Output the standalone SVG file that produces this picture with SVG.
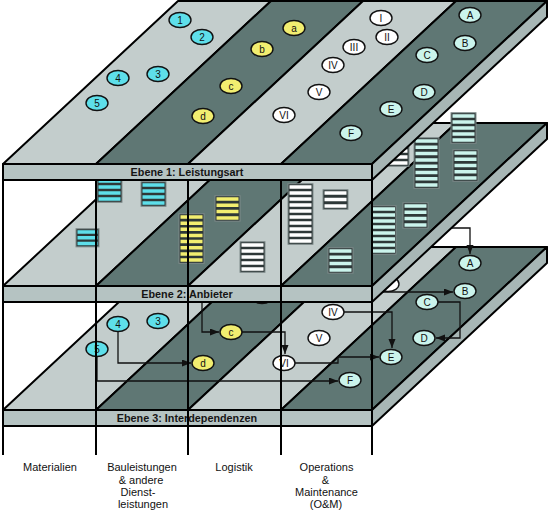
<svg xmlns="http://www.w3.org/2000/svg" xmlns:xlink="http://www.w3.org/1999/xlink" width="551" height="511" viewBox="0 0 551 511">
<style>
.e{stroke:#000;stroke-width:2;stroke-linejoin:round}
.lt{fill:#c3cdcc}.dk{fill:#5f7774}.band{fill:#b5c3c2}.side{fill:#a7b6b5}
.node ellipse{stroke:#111;stroke-width:1.4}
.cy{fill:#5edfea}.ye{fill:#f2ee70}.wh{fill:#fff}.lc{fill:#cbf4ec}
.nl{font-family:"Liberation Sans",Arial,sans-serif;font-size:10px;fill:#111;text-anchor:middle}
.bl{font-family:"Liberation Sans",Arial,sans-serif;font-weight:bold;font-size:10.8px;fill:#151515;text-anchor:middle}
.col{font-family:"Liberation Sans",Arial,sans-serif;font-size:11px;fill:#111;text-anchor:middle}
.conn path{fill:none;stroke:#111;stroke-width:1.3;marker-end:url(#arr)}
.stk rect{fill:#2e3838;stroke:#7f8b8a;stroke-width:1}
.stk line{stroke-width:22}
.post line{stroke:#000;stroke-width:2}
</style>
<defs>
<g id="slab" class="e">
<polygon class="lt" points="178,0 271,0 96,163 3,163"/>
<polygon class="dk" points="271,0 363,0 188,163 96,163"/>
<polygon class="lt" points="363,0 456,0 281,163 188,163"/>
<polygon class="dk" points="456,0 547,0 372,163 281,163"/>
<rect class="band" x="3" y="163" width="369" height="16"/>
<polygon class="side" points="372,163 547,0 547,16 372,179"/>
</g>
<marker id="arr" markerUnits="userSpaceOnUse" markerWidth="9" markerHeight="8" refX="9" refY="3.5" orient="auto">
<path d="M0,0 L9,3.5 L0,7 z" fill="#111"/>
</marker>
</defs>
<rect width="551" height="511" fill="#fff"/>

<!-- Layer 3 -->
<g id="layer3">
<use href="#slab" transform="translate(0,247)"/>
<text class="bl" x="187" y="422">Ebene 3: Interdependenzen</text>
</g>
<g id="layer3-nodes">
<g id="l3-b" class="node"><ellipse class="ye" cx="262" cy="296" rx="11" ry="7.5"/></g>
<g id="l3-II" class="node"><ellipse class="wh" cx="388" cy="284" rx="11" ry="7.5"/></g>
<g id="l3-3" class="node"><ellipse class="cy" cx="158" cy="321" rx="11" ry="7.5"/><text class="nl" x="158" y="324.6">3</text></g>
<g id="l3-4" class="node"><ellipse class="cy" cx="118" cy="324" rx="11" ry="7.5"/><text class="nl" x="118" y="327.6">4</text></g>
<g id="l3-5" class="node"><ellipse class="cy" cx="97" cy="349" rx="11" ry="7.5"/><text class="nl" x="97" y="352.6">5</text></g>
<g id="l3-c" class="node"><ellipse class="ye" cx="231" cy="332" rx="11" ry="7.5"/><text class="nl" x="231" y="335.6">c</text></g>
<g id="l3-d" class="node"><ellipse class="ye" cx="203" cy="363" rx="11" ry="7.5"/><text class="nl" x="203" y="366.6">d</text></g>
<g id="l3-IV" class="node"><ellipse class="wh" cx="333" cy="312" rx="11" ry="7.5"/><text class="nl" x="333" y="315.6">IV</text></g>
<g id="l3-V" class="node"><ellipse class="wh" cx="319" cy="338" rx="11" ry="7.5"/><text class="nl" x="319" y="341.6">V</text></g>
<g id="l3-VI" class="node"><ellipse class="wh" cx="284" cy="363" rx="11" ry="7.5"/><text class="nl" x="284" y="366.6">VI</text></g>
<g id="l3-A" class="node"><ellipse class="lc" cx="470" cy="263" rx="11" ry="7.5"/><text class="nl" x="470" y="266.6">A</text></g>
<g id="l3-B" class="node"><ellipse class="lc" cx="465" cy="291" rx="11" ry="7.5"/><text class="nl" x="465" y="294.6">B</text></g>
<g id="l3-C" class="node"><ellipse class="lc" cx="427" cy="302" rx="11" ry="7.5"/><text class="nl" x="427" y="305.6">C</text></g>
<g id="l3-D" class="node"><ellipse class="lc" cx="424" cy="338" rx="11" ry="7.5"/><text class="nl" x="424" y="341.6">D</text></g>
<g id="l3-E" class="node"><ellipse class="lc" cx="391" cy="357" rx="11" ry="7.5"/><text class="nl" x="391" y="360.6">E</text></g>
<g id="l3-F" class="node"><ellipse class="lc" cx="350" cy="380" rx="11" ry="7.5"/><text class="nl" x="350" y="383.6">F</text></g>
</g>
<g id="connectors" class="conn">
<path d="M118,331.5 V363 H191"/>
<path d="M97,356.5 V381 H338"/>
<path d="M202,290 V332 H219"/>
<path d="M242,332 H285 V354"/>
<path d="M295,363 H338 V357 H379"/>
<path d="M344,312 H392 V348"/>
<path d="M438,302 H460 V338 H436"/>
<path d="M378,292 H453"/>
<path d="M430,228 H470 V254"/>
</g>

<!-- Layer 2 -->
<g id="layer2">
<use href="#slab" transform="translate(0,123)"/>
<text class="bl" x="187" y="298">Ebene 2: Anbieter</text>
</g>
<g id="layer2-stacks" class="stk">
<g id="s-c1"><rect x="97" y="177.75" width="25" height="24.5"/><line x1="109.5" y1="179.25" x2="109.5" y2="200.75" stroke="#5edfea" stroke-dasharray="3.5 2.5"/></g>
<g id="s-c2"><rect x="141" y="181.75" width="25" height="24.5"/><line x1="153.5" y1="183.25" x2="153.5" y2="204.75" stroke="#5edfea" stroke-dasharray="3.5 2.5"/></g>
<g id="s-c3"><rect x="76" y="228.75" width="23" height="18.1"/><line x1="87.5" y1="230.25" x2="87.5" y2="245.35" stroke="#5edfea" stroke-width="20" style="stroke-width:20" stroke-dasharray="3.5 2.3"/></g>
<g id="s-y1"><rect x="179" y="213.75" width="25" height="49.6"/><line x1="191.5" y1="215.25" x2="191.5" y2="261.8" stroke="#f2ee70" stroke-dasharray="3.5 2.65"/></g>
<g id="s-y2"><rect x="215" y="195.75" width="25" height="25.4"/><line x1="227.5" y1="197.25" x2="227.5" y2="219.65" stroke="#f2ee70" stroke-dasharray="3.5 2.8"/></g>
<g id="s-w1"><rect x="240" y="241.75" width="25" height="30.5"/><line x1="252.5" y1="243.25" x2="252.5" y2="270.75" stroke="#fff" stroke-dasharray="3.5 2.5"/></g>
<g id="s-w2"><rect x="288" y="183.75" width="25" height="60.5"/><line x1="300.5" y1="185.25" x2="300.5" y2="242.75" stroke="#fff" stroke-dasharray="3.5 2.5"/></g>
<g id="s-w3"><rect x="323" y="189.75" width="25" height="19.5"/><line x1="335.5" y1="191.25" x2="335.5" y2="207.75" stroke="#fff" stroke-dasharray="3.5 3"/></g>
<g id="s-w4"><rect x="384" y="141.75" width="25" height="24.5"/><line x1="396.5" y1="143.25" x2="396.5" y2="164.75" stroke="#fff" stroke-dasharray="3.5 2.5"/></g>
<g id="s-l1"><rect x="372" y="205.75" width="24" height="48.5"/><line x1="384" y1="207.25" x2="384" y2="252.75" stroke="#cbf4ec" stroke-dasharray="3.5 2.5"/></g>
<g id="s-l2"><rect x="403" y="202.75" width="25" height="25.4"/><line x1="415.5" y1="204.25" x2="415.5" y2="226.65" stroke="#cbf4ec" stroke-dasharray="3.5 2.8"/></g>
<g id="s-l3"><rect x="328" y="247.75" width="25" height="25.4"/><line x1="340.5" y1="249.25" x2="340.5" y2="271.65" stroke="#cbf4ec" stroke-dasharray="3.5 2.8"/></g>
<g id="s-l4"><rect x="414" y="137.75" width="25" height="50.6"/><line x1="426.5" y1="139.25" x2="426.5" y2="187.85" stroke="#cbf4ec" stroke-dasharray="3.5 2.8"/></g>
<g id="s-l5"><rect x="451" y="112.75" width="25" height="30.5"/><line x1="463.5" y1="114.25" x2="463.5" y2="141.75" stroke="#cbf4ec" stroke-dasharray="3.5 2.5"/></g>
<g id="s-l6"><rect x="453" y="149.75" width="25" height="31.5"/><line x1="465.5" y1="151.25" x2="465.5" y2="179.75" stroke="#cbf4ec" stroke-dasharray="3.5 2.75"/></g>
</g>

<!-- Layer 1 -->
<g id="layer1">
<use href="#slab" transform="translate(0,1)"/>
<text class="bl" x="187" y="176">Ebene 1: Leistungsart</text>
</g>
<g id="layer1-nodes">
<g id="l1-1" class="node"><ellipse class="cy" cx="180" cy="20" rx="11" ry="7.5"/><text class="nl" x="180" y="23.6">1</text></g>
<g id="l1-2" class="node"><ellipse class="cy" cx="202" cy="37" rx="11" ry="7.5"/><text class="nl" x="202" y="40.6">2</text></g>
<g id="l1-3" class="node"><ellipse class="cy" cx="158" cy="74" rx="11" ry="7.5"/><text class="nl" x="158" y="77.6">3</text></g>
<g id="l1-4" class="node"><ellipse class="cy" cx="118" cy="78" rx="11" ry="7.5"/><text class="nl" x="118" y="81.6">4</text></g>
<g id="l1-5" class="node"><ellipse class="cy" cx="97" cy="103" rx="11" ry="7.5"/><text class="nl" x="97" y="106.6">5</text></g>
<g id="l1-a" class="node"><ellipse class="ye" cx="294" cy="28" rx="11" ry="7.5"/><text class="nl" x="294" y="31.6">a</text></g>
<g id="l1-b" class="node"><ellipse class="ye" cx="262" cy="49" rx="11" ry="7.5"/><text class="nl" x="262" y="52.6">b</text></g>
<g id="l1-c" class="node"><ellipse class="ye" cx="231" cy="86" rx="11" ry="7.5"/><text class="nl" x="231" y="89.6">c</text></g>
<g id="l1-d" class="node"><ellipse class="ye" cx="203" cy="116" rx="11" ry="7.5"/><text class="nl" x="203" y="119.6">d</text></g>
<g id="l1-I" class="node"><ellipse class="wh" cx="381" cy="18" rx="11" ry="7.5"/><text class="nl" x="381" y="21.6">I</text></g>
<g id="l1-II" class="node"><ellipse class="wh" cx="387" cy="37" rx="11" ry="7.5"/><text class="nl" x="387" y="40.6">II</text></g>
<g id="l1-III" class="node"><ellipse class="wh" cx="354" cy="47" rx="11" ry="7.5"/><text class="nl" x="354" y="50.6">III</text></g>
<g id="l1-IV" class="node"><ellipse class="wh" cx="333" cy="65" rx="11" ry="7.5"/><text class="nl" x="333" y="68.6">IV</text></g>
<g id="l1-V" class="node"><ellipse class="wh" cx="319" cy="92" rx="11" ry="7.5"/><text class="nl" x="319" y="95.6">V</text></g>
<g id="l1-VI" class="node"><ellipse class="wh" cx="284" cy="115" rx="11" ry="7.5"/><text class="nl" x="284" y="118.6">VI</text></g>
<g id="l1-A" class="node"><ellipse class="lc" cx="470" cy="15" rx="11" ry="7.5"/><text class="nl" x="470" y="18.6">A</text></g>
<g id="l1-B" class="node"><ellipse class="lc" cx="465" cy="43" rx="11" ry="7.5"/><text class="nl" x="465" y="46.6">B</text></g>
<g id="l1-C" class="node"><ellipse class="lc" cx="427" cy="55" rx="11" ry="7.5"/><text class="nl" x="427" y="58.6">C</text></g>
<g id="l1-D" class="node"><ellipse class="lc" cx="424" cy="92" rx="11" ry="7.5"/><text class="nl" x="424" y="95.6">D</text></g>
<g id="l1-E" class="node"><ellipse class="lc" cx="391" cy="109" rx="11" ry="7.5"/><text class="nl" x="391" y="112.6">E</text></g>
<g id="l1-F" class="node"><ellipse class="lc" cx="351" cy="133" rx="11" ry="7.5"/><text class="nl" x="351" y="136.6">F</text></g>
</g>

<g id="posts" class="post">
<line x1="3" y1="180" x2="3" y2="455"/>
<line x1="96" y1="180" x2="96" y2="455"/>
<line x1="188" y1="180" x2="188" y2="455"/>
<line x1="281" y1="180" x2="281" y2="455"/>
<line x1="372" y1="180" x2="372" y2="455"/>
</g>

<g id="column-labels">
<text class="col" x="50" y="471">Materialien</text>
<text class="col" x="142" y="471">Bauleistungen</text>
<text class="col" x="141" y="484">&amp; andere</text>
<text class="col" x="138" y="496">Dienst-</text>
<text class="col" x="143" y="508">leistungen</text>
<text class="col" x="234" y="471">Logistik</text>
<text class="col" x="326.5" y="471">Operations</text>
<text class="col" x="325.5" y="484">&amp;</text>
<text class="col" x="326.5" y="496">Maintenance</text>
<text class="col" x="326" y="508">(O&amp;M)</text>
</g>
</svg>
